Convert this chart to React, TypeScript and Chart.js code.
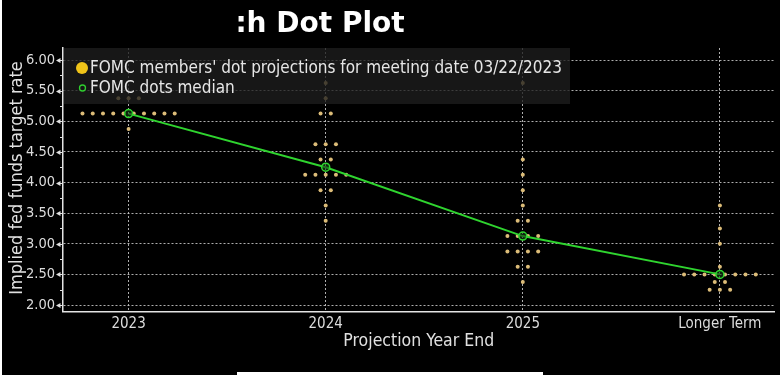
import React, { useEffect, useRef } from 'react';
import { Chart, registerables } from 'chart.js';

Chart.register(...registerables);

const categories = ['2023', '2024', '2025', 'Longer Term'];

const levels2023 = [5.375, 5.125, 4.875];
const counts2023 = [3, 10, 1];
const levels2024 = [5.625, 5.375, 5.125, 4.625, 4.375, 4.125, 3.875, 3.625, 3.375];
const counts2024 = [1, 1, 2, 3, 2, 5, 2, 1, 1];
const levels2025 = [5.625, 4.375, 4.125, 3.875, 3.625, 3.375, 3.125, 2.875, 2.625, 2.375];
const counts2025 = [1, 1, 1, 1, 1, 2, 4, 4, 2, 1];
const levelsLonger = [3.625, 3.25, 3.0, 2.625, 2.5, 2.375, 2.25];
const countsLonger = [1, 1, 1, 1, 8, 2, 3];

const medians = [5.125, 4.25, 3.125, 2.5];

const yTickValues = [2, 2.5, 3, 3.5, 4, 4.5, 5, 5.5, 6];
const yMinorValues = [2.25, 2.75, 3.25, 3.75, 4.25, 4.75, 5.25, 5.75];

const titleText = ':h Dot Plot';
const legendLabels = ["FOMC members' dot projections for meeting date 03/22/2023", 'FOMC dots median'];
const yTitle = 'Implied fed funds target rate';
const xTitle = 'Projection Year End';

const FONT = "'DejaVu Sans Condensed', 'DejaVu Sans', sans-serif";
const DOT_STEP = 0.052;

function buildDots() {
  const groups = [
    [levels2023, counts2023],
    [levels2024, counts2024],
    [levels2025, counts2025],
    [levelsLonger, countsLonger],
  ];
  const pts: { x: number; y: number }[] = [];
  groups.forEach(([levels, counts], c) => {
    levels.forEach((lv, k) => {
      const n = counts[k];
      for (let i = 0; i < n; i++) {
        pts.push({ x: c + (i - (n - 1) / 2) * DOT_STEP, y: lv });
      }
    });
  });
  return pts;
}

const extras = {
  id: 'extras',
  afterDatasetsDraw(chart: any) {
    const ctx = chart.ctx;
    ctx.save();
    // legend box
    ctx.fillStyle = 'rgba(30,30,30,0.78)';
    ctx.fillRect(64, 48, 506, 56);
    ctx.fillStyle = '#f0c419';
    ctx.beginPath();
    ctx.arc(82, 68, 6, 0, Math.PI * 2);
    ctx.fill();
    ctx.strokeStyle = '#2fcf2f';
    ctx.lineWidth = 1.3;
    ctx.beginPath();
    ctx.arc(82.5, 88, 3, 0, Math.PI * 2);
    ctx.stroke();
    ctx.fillStyle = '#e6e6e6';
    ctx.font = `17px ${FONT}`;
    ctx.textBaseline = 'middle';
    ctx.textAlign = 'left';
    ctx.fillText(legendLabels[0], 90, 68.5);
    ctx.fillText(legendLabels[1], 90, 88.5);
    ctx.restore();
  },
  afterDraw(chart: any) {
    const ctx = chart.ctx;
    const y = chart.scales.y;
    const { left, right } = chart.chartArea;
    ctx.save();
    // title
    ctx.fillStyle = '#ffffff';
    ctx.font = `bold 28px 'DejaVu Sans', sans-serif`;
    ctx.textAlign = 'center';
    ctx.textBaseline = 'alphabetic';
    ctx.fillText(titleText, 320, 32);
    // x title
    ctx.fillStyle = '#e0e0e0';
    ctx.font = `17.5px ${FONT}`;
    ctx.textBaseline = 'middle';
    ctx.fillText(xTitle, (left + right) / 2, 341);
    // y title
    ctx.save();
    ctx.font = `18px ${FONT}`;
    ctx.translate(17, 178);
    ctx.rotate(-Math.PI / 2);
    ctx.fillText(yTitle, 0, 0);
    ctx.restore();
    // tick marks
    ctx.fillStyle = '#e0e0e0';
    ctx.strokeStyle = '#e0e0e0';
    ctx.lineWidth = 1;
    yTickValues.forEach((v) => {
      const py = Math.round(y.getPixelForValue(v)) + 0.5;
      ctx.beginPath();
      ctx.moveTo(56, py);
      ctx.lineTo(60.5, py - 2.5);
      ctx.lineTo(60.5, py + 2.5);
      ctx.closePath();
      ctx.fill();
      ctx.beginPath();
      ctx.moveTo(60, py);
      ctx.lineTo(left, py);
      ctx.stroke();
    });
    yMinorValues.forEach((v) => {
      const py = Math.round(y.getPixelForValue(v)) + 0.5;
      ctx.beginPath();
      ctx.moveTo(60, py);
      ctx.lineTo(left, py);
      ctx.stroke();
    });
    ctx.restore();
  },
};

export default function App() {
  const canvasRef = useRef<HTMLCanvasElement | null>(null);

  useEffect(() => {
    if (!canvasRef.current) return;
    const chart = new Chart(canvasRef.current, {
      type: 'scatter',
      data: {
        datasets: [
          {
            label: legendLabels[1],
            type: 'line',
            data: medians.map((m, i) => ({ x: i, y: m })),
            borderColor: '#2fd42f',
            borderWidth: 2,
            pointRadius: 4,
            pointBorderWidth: 1.5,
            pointBorderColor: '#2fd42f',
            pointBackgroundColor: 'rgba(20,60,20,0.6)',
            fill: false,
            tension: 0,
          } as any,
          {
            label: legendLabels[0],
            data: buildDots(),
            pointRadius: 2,
            pointBorderWidth: 0,
            pointBackgroundColor: '#dcbc78',
            backgroundColor: '#dcbc78',
          },
        ],
      },
      options: {
        animation: false,
        responsive: false,
        maintainAspectRatio: false,
        layout: { padding: { top: 48, right: 1, left: 0, bottom: 0 } },
        plugins: {
          legend: { display: false },
          tooltip: { enabled: false },
          title: { display: false },
        },
        scales: {
          x: {
            type: 'linear',
            min: -0.3328,
            max: 3.277,
            afterBuildTicks: (s: any) => {
              s.ticks = categories.map((_, i) => ({ value: i }));
            },
            afterFit: (s: any) => {
              s.height = 375 - 311.5;
            },
            ticks: {
              callback: (v: any) => categories[Math.round(Number(v))] ?? '',
              color: '#dcdcdc',
              font: { family: FONT, size: 15 },
              padding: 4,
              maxRotation: 0,
              autoSkip: false,
            },
            grid: { color: 'rgba(205,205,205,0.85)', lineWidth: 1, drawTicks: false },
            border: { color: '#e4e4e4', width: 1.5, dash: [2, 2] },
          },
          y: {
            min: 1.894,
            max: 6.196,
            afterBuildTicks: (s: any) => {
              s.ticks = yTickValues.map((v) => ({ value: v }));
            },
            afterFit: (s: any) => {
              s.width = 63;
            },
            ticks: {
              callback: (v: any) => Number(v).toFixed(2),
              color: '#dcdcdc',
              font: { family: FONT, size: 14.5 },
              padding: 8,
            },
            grid: { color: 'rgba(205,205,205,0.85)', lineWidth: 1, drawTicks: false },
            border: { color: '#e4e4e4', width: 1.5, dash: [2, 2] },
          },
        },
      },
      plugins: [extras],
    });
    return () => chart.destroy();
  }, []);

  return (
    <div style={{ position: 'fixed', left: 0, top: 0, width: 780, height: 381, background: '#ffffff', overflow: 'hidden' }}>
      <div style={{ position: 'absolute', left: 2, top: 0, width: 778, height: 375, background: '#000000' }} />
      <div style={{ position: 'absolute', left: 237, top: 372, width: 306, height: 9, background: '#ffffff' }} />
      <canvas
        ref={canvasRef}
        width={780}
        height={375}
        style={{ position: 'absolute', left: 0, top: 0, width: 780, height: 375 }}
      />
    </div>
  );
}
